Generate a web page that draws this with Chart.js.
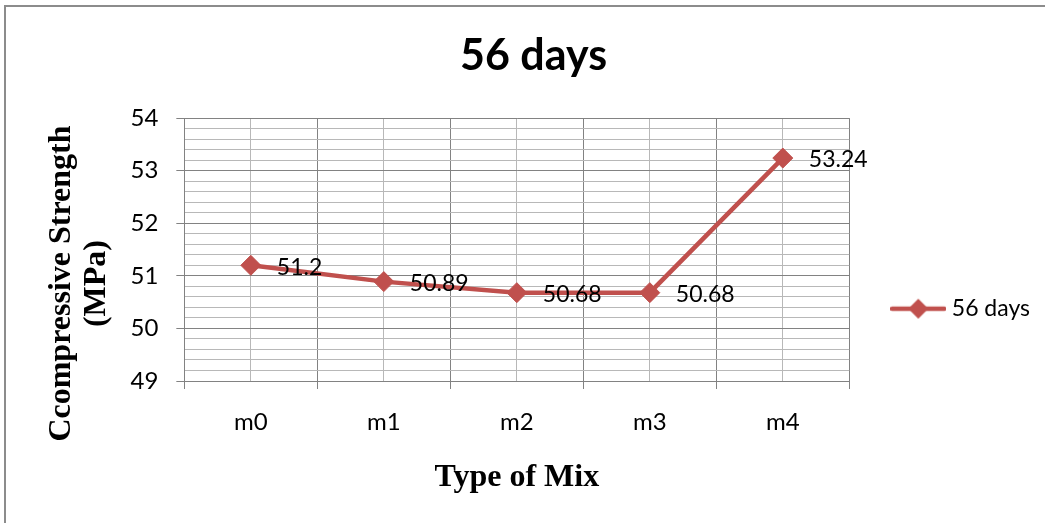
<!DOCTYPE html>
<html>
<head>
<meta charset="utf-8">
<script src="https://cdn.jsdelivr.net/npm/chart.js@4/dist/chart.umd.min.js"></script>
<style>
  html, body { margin: 0; padding: 0; background: #fff; }
  #wrap { position: relative; width: 1045px; height: 523px; overflow: hidden; background: #fff; }
  #frame { position: absolute; left: 4px; top: 5px; width: 2000px; height: 2000px;
           border-left: 2px solid #8c8c8c; border-top: 2px solid #8c8c8c; pointer-events: none; }
  canvas { position: absolute; left: 0; top: 0; }
</style>
</head>
<body>
<div id="wrap">
  <canvas id="c" width="1045" height="523"></canvas>
  <div id="frame"></div>
</div>
<script>
// ---- data ----
const categories = ['m0', 'm1', 'm2', 'm3', 'm4'];
const strength56 = [51.2, 50.89, 50.68, 50.68, 53.24];
const seriesName = '56 days';
const chartTitle = '56 days';
const xAxisTitle = 'Type of Mix';
const yAxisTitle = ['Ccompressive Strength', '(MPa)'];
const yMin = 49, yMax = 54;

// ---- style ----
const RED = '#C0504D';
const MAJOR = '#828282';
const MINOR = '#b8b8b8';
const isInt = v => Math.abs(v - Math.round(v)) < 1e-6;

// legend icon: line with diamond
function legendIcon() {
  const cv = document.createElement('canvas');
  cv.width = 56; cv.height = 24;
  const g = cv.getContext('2d');
  g.strokeStyle = RED; g.lineWidth = 4.5; g.lineCap = 'round';
  g.beginPath(); g.moveTo(2, 12); g.lineTo(54, 12); g.stroke();
  g.fillStyle = RED;
  g.beginPath(); g.moveTo(28 - 10, 12); g.lineTo(28, 2); g.lineTo(28 + 10, 12); g.lineTo(28, 22); g.closePath(); g.fill();
  return cv;
}

const dataLabels = {
  id: 'dataLabels',
  afterDatasetsDraw(chart) {
    const ctx = chart.ctx;
    ctx.save();
    ctx.font = '23px Lato';
    ctx.fillStyle = '#000';
    ctx.textAlign = 'left';
    ctx.textBaseline = 'middle';
    chart.data.datasets.forEach((ds, di) => {
      const meta = chart.getDatasetMeta(di);
      meta.data.forEach((pt, i) => {
        ctx.fillText(String(ds.data[i].y), pt.x + 26, pt.y + 2);
      });
    });
    ctx.restore();
  }
};

// y-axis title drawn a little below the axis centre, as in the original
const yTitlePlugin = {
  id: 'yTitle',
  afterDraw(chart) {
    const ctx = chart.ctx;
    const a = chart.chartArea;
    const cy = (a.top + a.bottom) / 2 + 34;
    ctx.save();
    ctx.font = 'bold 32px "Liberation Serif"';
    ctx.fillStyle = '#000';
    ctx.textAlign = 'center';
    ctx.textBaseline = 'middle';
    yAxisTitle.forEach((t, i) => {
      ctx.save();
      ctx.translate(a.left - 123 + i * 35, cy);
      ctx.rotate(-Math.PI / 2);
      ctx.fillText(t, 0, 0);
      ctx.restore();
    });
    ctx.restore();
  }
};

const icon = legendIcon();

new Chart(document.getElementById('c'), {
  type: 'line',
  data: {
    datasets: [{
      label: seriesName,
      data: strength56.map((v, i) => ({ x: i, y: v })),
      borderColor: RED,
      backgroundColor: RED,
      borderWidth: 4.5,
      pointStyle: 'rectRot',
      pointRadius: 10,
      pointBorderWidth: 1,
      pointBackgroundColor: RED,
      pointBorderColor: RED,
      tension: 0,
      fill: false
    }]
  },
  options: {
    responsive: false,
    devicePixelRatio: 1,
    animation: false,
    layout: { padding: { left: 27, right: 5, top: 10, bottom: 10 } },
    scales: {
      x: {
        type: 'linear',
        min: -0.5,
        max: categories.length - 0.5,
        ticks: {
          stepSize: 0.5,
          autoSkip: false,
          maxRotation: 0,
          padding: 18.6,
          color: '#000',
          font: { family: 'Lato', size: 24 },
          callback: v => isInt(v) ? categories[Math.round(v)] : ''
        },
        grid: {
          color: c => isInt(c.tick.value) ? MINOR : MAJOR,
          tickColor: c => isInt(c.tick.value) ? 'rgba(0,0,0,0)' : MAJOR,
          tickLength: 8,
          lineWidth: 1
        },
        border: { color: MAJOR, width: 1 },
        title: {
          display: true,
          text: xAxisTitle,
          color: '#000',
          font: { family: 'Liberation Serif', size: 32, weight: 'bold' },
          padding: { top: 3.8, bottom: 15.8 }
        }
      },
      y: {
        min: yMin,
        max: yMax,
        ticks: {
          stepSize: 0.2,
          autoSkip: false,
          padding: 18,
          color: '#000',
          font: { family: 'Lato', size: 24 },
          callback: v => isInt(v) ? String(Math.round(v)) : ''
        },
        grid: {
          color: c => isInt(c.tick.value) ? MAJOR : MINOR,
          tickColor: c => isInt(c.tick.value) ? MAJOR : 'rgba(0,0,0,0)',
          tickLength: 8,
          lineWidth: 1
        },
        border: { color: MAJOR, width: 1 },
        title: {
          display: true,
          text: yAxisTitle,
          color: 'rgba(0,0,0,0)',
          font: { family: 'Liberation Serif', size: 30, weight: 'bold', lineHeight: 35 / 30 },
          padding: { top: 15.5, bottom: 0 }
        }
      }
    },
    plugins: {
      title: {
        display: true,
        text: chartTitle,
        color: '#000',
        font: { family: 'Lato', size: 43, weight: 'bold' },
        padding: { top: 20.5, bottom: 36 }
      },
      legend: {
        display: true,
        position: 'right',
        maxWidth: 195,
        title: { display: true, text: '', font: { size: 12 }, padding: { top: 80, bottom: 0 } },
        labels: {
          usePointStyle: true,
          pointStyleWidth: 44,
          boxHeight: 20,
          padding: 47,
          color: '#000',
          font: { family: 'Lato', size: 23 },
          generateLabels: chart => chart.data.datasets.map((ds, i) => ({
            text: ds.label,
            pointStyle: icon,
            fillStyle: RED,
            strokeStyle: RED,
            fontColor: '#000',
            lineWidth: 0,
            datasetIndex: i,
            hidden: false
          }))
        }
      },
      tooltip: { enabled: false }
    }
  },
  plugins: [dataLabels, yTitlePlugin]
});
</script>
</body>
</html>
